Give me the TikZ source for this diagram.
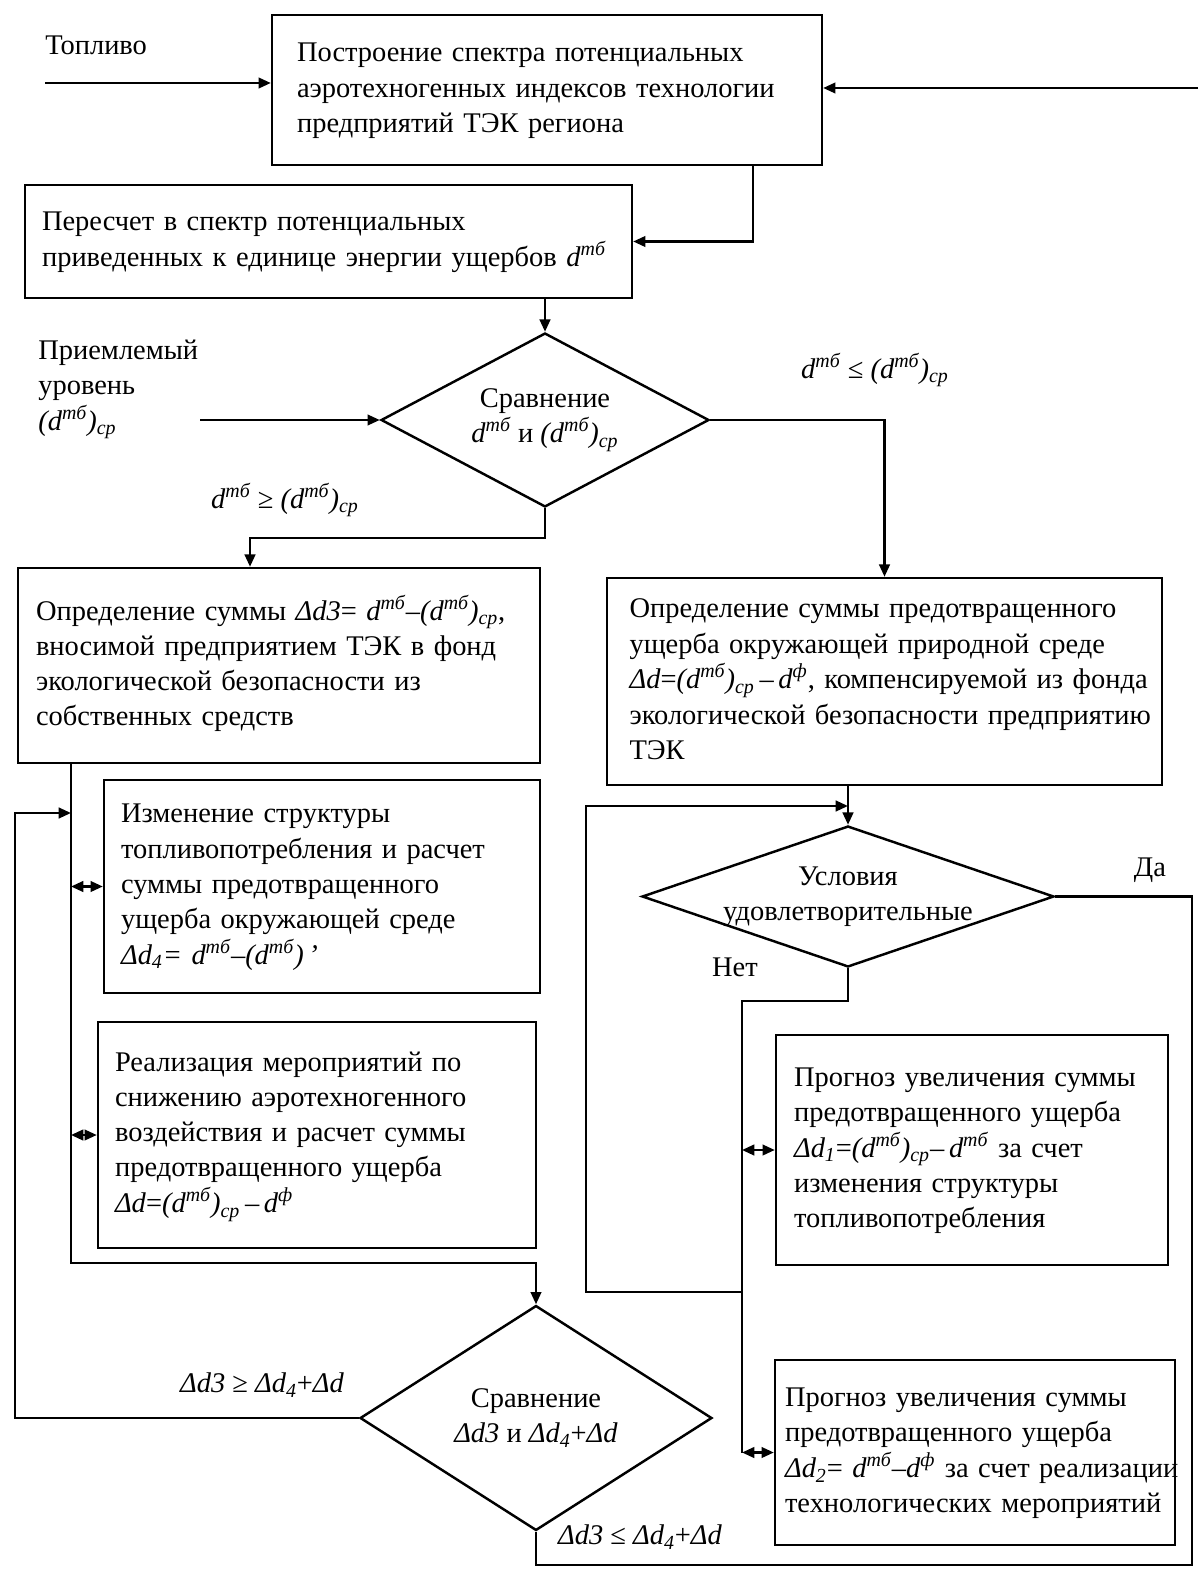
\documentclass[tikz,border=0pt]{standalone}
\usepackage{fontspec}
\setmainfont{Liberation Serif}
\usetikzlibrary{shapes.geometric,arrows.meta}

\newcommand{\shrift}{\fontsize{16.2}{20}\selectfont}
\newcommand{\stroki}[1]{\makebox[\linewidth][l]{\begin{tabular}{@{}l@{}}#1\end{tabular}}}
\newcommand{\dtb}{\textit{d\textsuperscript{тб}}}
\newcommand{\dsr}{\textit{(d\textsuperscript{тб})\textsubscript{ср}}}
\newcommand{\dfi}{\textit{d\textsuperscript{ф}}}
\newcommand{\Dd}[1]{\textit{Δd\textsubscript{#1}}}

\tikzstyle{blok}=[draw,line width=1.4pt,inner ysep=4pt,font=\shrift]
\tikzstyle{romb}=[draw,line width=1.4pt,diamond,align=center,inner sep=0pt,font=\shrift]
\tikzstyle{metka}=[inner sep=0pt,font=\shrift]
\tikzstyle{liniya}=[draw,line width=1.4pt]
\tikzstyle{strelka}=[draw,line width=1.4pt,-{Triangle[length=7pt,width=6pt]}]
\tikzstyle{dvoj}=[draw,line width=1.4pt,{Triangle[length=7pt,width=6pt]}-{Triangle[length=7pt,width=6pt]}]

\begin{document}
\begin{tikzpicture}[x=0.02cm, y=-0.02cm]
    \useasboundingbox (0,0) rectangle (1198,1574);
    % First we draw the boxes
    \node[blok, text width=10cm, inner xsep=0.5cm, minimum height=3cm] (postr) at (547,90)
        {\stroki{Построение спектра потенциальных\\аэротехногенных индексов технологии\\предприятий ТЭК региона}};
    \node[blok, text width=11.46cm, inner xsep=0.34cm, minimum height=2.26cm] (pereschet) at (328.5,241.5)
        {\stroki{Пересчет в спектр потенциальных\\приведенных к единице энергии ущербов \dtb}};
    \node[blok, text width=9.72cm, inner xsep=0.36cm, minimum height=3.9cm] (opr3) at (279,665.5)
        {\stroki{Определение суммы \textit{Δd3}= \dtb–\dsr,\\вносимой предприятием ТЭК в фонд\\экологической безопасности из\\собственных средств}};
    \node[blok, text width=10.2cm, inner xsep=0.45cm, minimum height=4.14cm] (opr4) at (884.5,681.5)
        {\stroki{Определение суммы предотвращенного\\ущерба окружающей природной среде\\\textit{Δd}=\dsr\,–\,\dfi, компенсируемой из фонда\\экологической безопасности предприятию\\ТЭК}};
    \node[blok, text width=8.04cm, inner xsep=0.34cm, minimum height=4.26cm] (izm) at (322,886.5)
        {\stroki{Изменение структуры\\топливопотребления и расчет\\суммы предотвращенного\\ущерба окружающей среде\\\textit{Δd\textsubscript{4}= d\textsuperscript{тб}–(d\textsuperscript{тб})\,’}}};
    \node[blok, text width=8.08cm, inner xsep=0.34cm, minimum height=4.52cm] (real) at (317,1135)
        {\stroki{Реализация мероприятий по\\снижению аэротехногенного\\воздействия и расчет суммы\\предотвращенного ущерба\\\textit{Δd}=\dsr\,–\,\dfi}};
    \node[blok, text width=7.12cm, inner xsep=0.36cm, minimum height=4.6cm] (prog1) at (972,1150)
        {\stroki{Прогноз увеличения суммы\\предотвращенного ущерба\\\Dd{1}=\dsr–\,\dtb{} за счет\\изменения структуры\\топливопотребления}};
    \node[blok, text width=7.6cm, inner xsep=0.2cm, minimum height=3.7cm] (prog2) at (975,1452.5)
        {\stroki{Прогноз увеличения суммы\\предотвращенного ущерба\\\Dd{2}= \dtb–\dfi{} за счет реализации\\технологических мероприятий}};
    % Then the decisions
    \node[romb, minimum width=6.56cm, minimum height=3.48cm, aspect=1.885] (sr1) at (545,420)
        {Сравнение\\\dtb{} и \dsr};
    \node[romb, minimum width=8.24cm, minimum height=2.82cm, aspect=2.92, inner xsep=-0.35cm, inner ysep=-0.1cm] (usl) at (848,896.5)
        {Условия\\удовлетворительные};
    \node[romb, minimum width=7.04cm, minimum height=4.5cm, aspect=1.564] (sr2) at (536,1418)
        {Сравнение\\\textit{Δd3} и \Dd{4}+\textit{Δd}};
    % Labels
    \node[metka, anchor=west] (toplivo) at (45,45) {Топливо};
    \node[metka, anchor=north west, align=left] (priemlemy) at (38,340) {Приемлемый\\уровень\\\dsr};
    \node[metka] (menshe1) at (875,370) {\dtb{} ≤ \dsr};
    \node[metka] (bolshe1) at (285,500) {\dtb{} ≥ \dsr};
    \node[metka] (da) at (1150,870) {Да};
    \node[metka] (net) at (735,967) {Нет};
    \node[metka] (bolshe2) at (262,1385) {\textit{Δd3} ≥ \Dd{4}+\textit{Δd}};
    \node[metka] (menshe2) at (640,1537) {\textit{Δd3} ≤ \Dd{4}+\textit{Δd}};
    % Free ends and bends of the connectors
    \foreach \px/\py/\name in {45/83/vhod, 1198/88/vozvrat, 200/420/priem, 71/1263/shina, 15/813/petlja, 742/1001/shina2, 586/1292/petlja2, 586/806/verh2, 1192/1565/ugol}
        \coordinate (\name) at (\px,\py);
    % Connect boxes and decisions
    \path[strelka] (vhod) -- (vhod -| postr.west);
    \path[strelka] (vozvrat) -- (vozvrat -| postr.east);
    \path[strelka] ([xshift=-1.4cm]postr.south east) |- (pereschet.east);
    \path[strelka] (sr1.north |- pereschet.south) -- (sr1.north);
    \path[strelka] (priem) -- (sr1.west);
    \path[strelka] (sr1.east) -| (opr4.north);
    \path[strelka] (sr1.south) -- ++(0,30) -| ([xshift=-0.58cm]opr3.north);
    \path[strelka] (opr3.south -| shina) -- (shina) -| (sr2.north);
    \foreach \blok in {izm,real}
        \path[dvoj] (\blok.west -| shina) -- (\blok.west);
    \path[strelka] (sr2.west) -| (petlja) -- (petlja -| shina);
    \path[strelka] (usl.north |- opr4.south) -- (usl.north);
    \path[liniya] (usl.south) |- (shina2) -- (shina2 |- prog2.west);
    \foreach \blok in {prog1,prog2}
        \path[dvoj] (\blok.west -| shina2) -- (\blok.west);
    \path[strelka] (petlja2 -| shina2) -- (petlja2) -- (verh2) -- (verh2 -| usl.north);
    \path[liniya] (usl.east) -- (usl.east -| ugol) -- (ugol) -| (sr2.south);
\end{tikzpicture}
\end{document}
